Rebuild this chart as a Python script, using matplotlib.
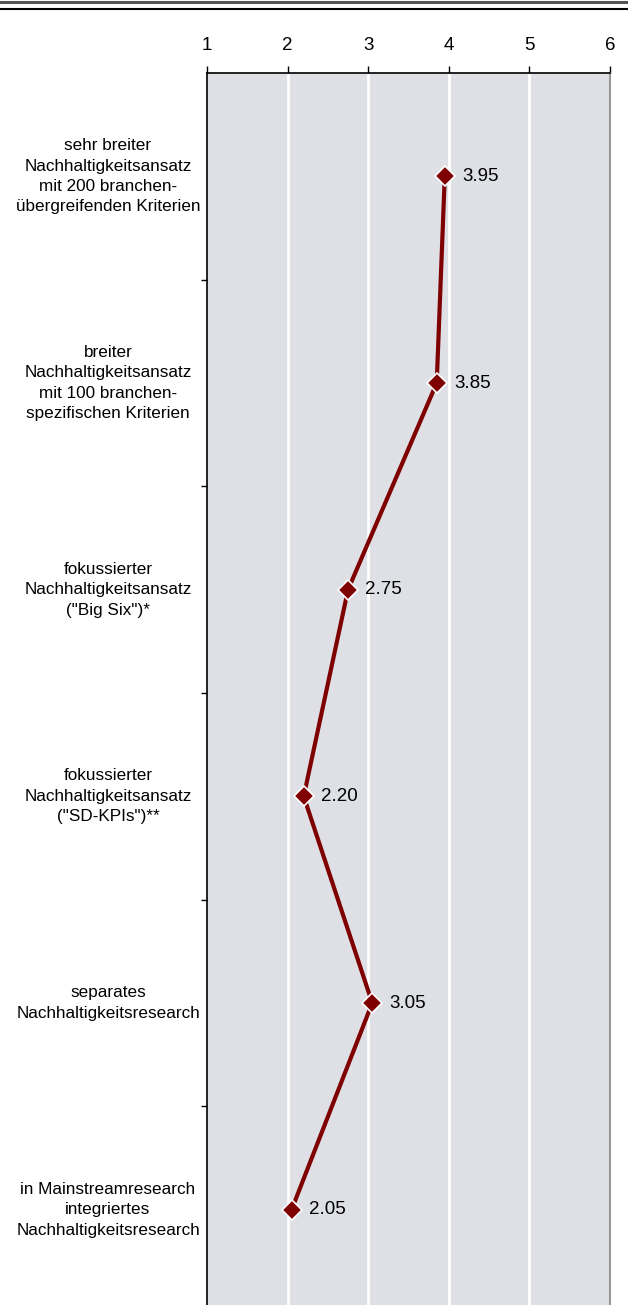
import matplotlib.pyplot as plt
import matplotlib.transforms as mtransforms
from matplotlib.lines import Line2D

plt.rcParams['font.family'] = ['Liberation Sans', 'DejaVu Sans']

# Bewertung der Research-Ansaetze (Mittelwerte, Skala 1-6)
kategorien = [
    'sehr breiter\nNachhaltigkeitsansatz\nmit 200 branchen-\nübergreifenden Kriterien',
    'breiter\nNachhaltigkeitsansatz\nmit 100 branchen-\nspezifischen Kriterien',
    'fokussierter\nNachhaltigkeitsansatz\n("Big Six")*',
    'fokussierter\nNachhaltigkeitsansatz\n("SD-KPIs")**',
    'separates\nNachhaltigkeitsresearch',
    'in Mainstreamresearch\nintegriertes\nNachhaltigkeitsresearch',
]
werte = [3.95, 3.85, 2.75, 2.20, 3.05, 2.05]
skala = [1, 2, 3, 4, 5, 6]

rot = '#7f0000'
fig = plt.figure(figsize=(6.28, 13.05), dpi=100)
ax = fig.add_axes([207 / 628, -8 / 1305, 403 / 628, 1240 / 1305])
ax.set_facecolor('#dee0e5')

pos = [i + 0.5 for i in range(len(werte))]
ax.plot(werte, pos, color=rot, lw=3, zorder=3, solid_capstyle='round')
ax.plot(werte, pos, ls='none', marker='D', ms=10.5, mfc=rot, mec='white',
        mew=1.2, zorder=4)
for w, p in zip(werte, pos):
    ax.annotate(f'{w:.2f}', (w, p), xytext=(12.5, 0), textcoords='offset points',
                va='center', ha='left', fontsize=13.5)

ax.set_xlim(1, 6)
ax.set_ylim(len(werte), 0)
ax.set_xticks(skala)
ax.xaxis.tick_top()
ax.tick_params(axis='x', direction='out', length=5, width=1, pad=9,
               labelsize=13.5)
ax.set_yticks(range(1, len(werte)))
ax.set_yticklabels([])
ax.tick_params(axis='y', direction='out', length=4, width=1)
for x in skala[1:-1]:
    ax.axvline(x, color='white', lw=2, zorder=1)

ax.spines['left'].set_linewidth(1.2)
ax.spines['top'].set_linewidth(1.2)
ax.spines['right'].set_color('#999999')
ax.spines['right'].set_linewidth(1.5)
ax.spines['bottom'].set_visible(False)

trans = mtransforms.blended_transform_factory(fig.transFigure, ax.transData)
for k, p in zip(kategorien, pos):
    fig.text(108 / 628, p, k, transform=trans, ha='center', va='center',
             fontsize=12.3, linespacing=1.45, multialignment='center')

# doppelte Linie oben
fig.add_artist(Line2D([0, 1], [1 - 2 / 1305, 1 - 2 / 1305], color='#555555',
                      lw=2.2, transform=fig.transFigure))
fig.add_artist(Line2D([0, 1], [1 - 9 / 1305, 1 - 9 / 1305], color='black',
                      lw=1.5, transform=fig.transFigure))

fig.savefig('out.png', dpi=100)
